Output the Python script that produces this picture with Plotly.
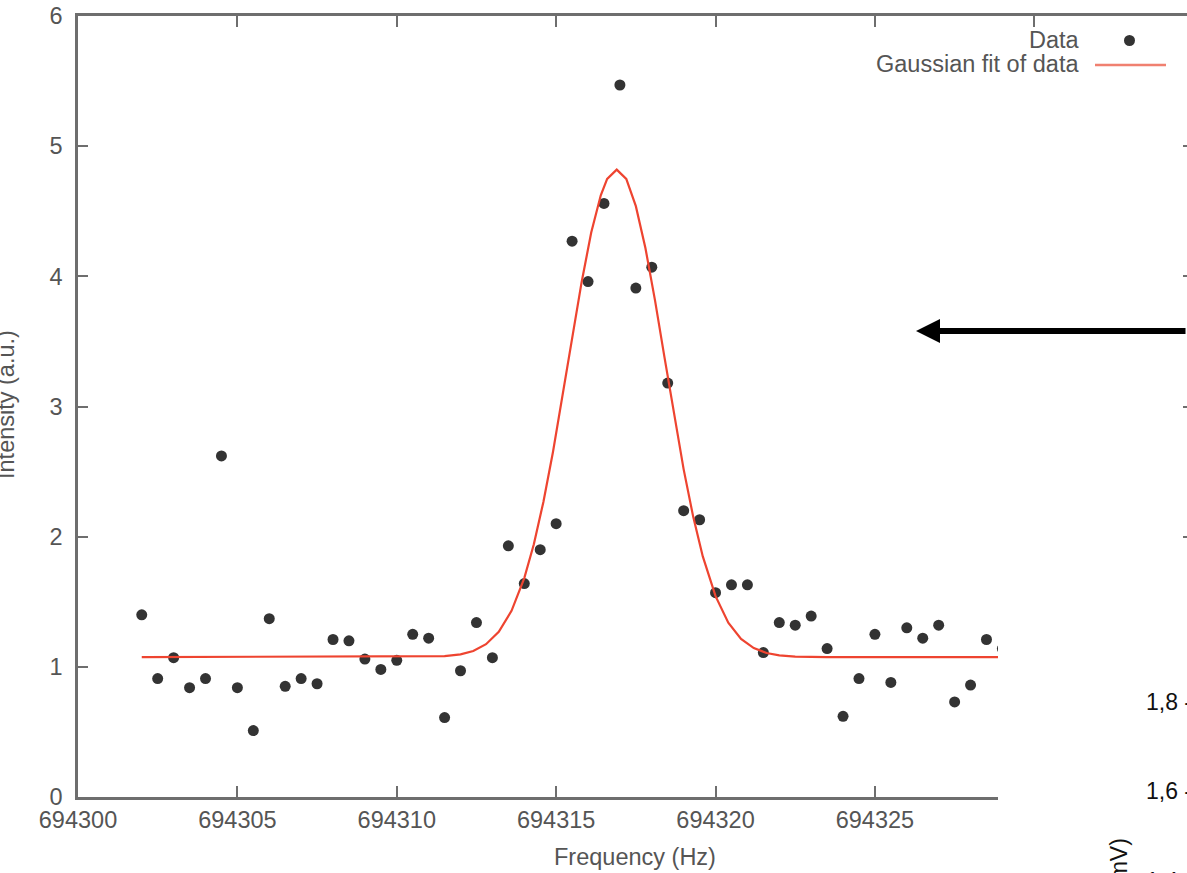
import plotly.graph_objects as go

# ---------------- data ----------------
freq = [694302.0 + 0.5 * i for i in range(55)]
intensity = [
    1.40, 0.91, 1.07, 0.84, 0.91, 2.62, 0.84, 0.51, 1.37, 0.85,
    0.91, 0.87, 1.21, 1.20, 1.06, 0.98, 1.05, 1.25, 1.22, 0.61,
    0.97, 1.34, 1.07, 1.93, 1.64, 1.90, 2.10, 4.27, 3.96, 4.56,
    5.47, 3.91, 4.07, 3.18, 2.20, 2.13, 1.57, 1.63, 1.63, 1.11,
    1.34, 1.32, 1.39, 1.14, 0.62, 0.91, 1.25, 0.88, 1.30, 1.22,
    1.32, 0.73, 0.86, 1.21, 1.14,
]

fit_freq = [
    694302.0, 694311.0, 694311.5, 694312.0, 694312.4, 694312.8, 694313.2,
    694313.6, 694314.0, 694314.3, 694314.6, 694314.9, 694315.2, 694315.5,
    694315.8, 694316.1, 694316.4, 694316.6, 694316.9, 694317.2, 694317.5,
    694317.8, 694318.1, 694318.4, 694318.7, 694319.0, 694319.3, 694319.6,
    694320.0, 694320.4, 694320.8, 694321.2, 694321.6, 694322.0, 694322.5,
    694323.5, 694329.5,
]
fit_intensity = [
    1.075, 1.077, 1.082, 1.096, 1.122, 1.174, 1.269,
    1.430, 1.682, 1.942, 2.267, 2.651, 3.079, 3.525,
    3.957, 4.336, 4.623, 4.748, 4.820, 4.748, 4.539,
    4.218, 3.817, 3.376, 2.933, 2.517, 2.152, 1.848,
    1.543, 1.339, 1.214, 1.144, 1.106, 1.088, 1.079,
    1.075, 1.075,
]

x_ticks = [694300, 694305, 694310, 694315, 694320, 694325, 694330]
x_tick_labels = ["694300", "694305", "694310", "694315", "694320", "694325", ""]
y_ticks = [0, 1, 2, 3, 4, 5, 6]
x_range = [694300, 694334.79]
y_range = [0, 6]

# ---------------- layout geometry (pixels) ----------------
W, H = 1187, 873
L, R, T, B = 78, 0, 16, 76
PW, PH = W - L - R, H - T - B


def px(xp):
    return (xp - L) / PW


def py(yp):
    return (H - B - yp) / PH


AXIS = "#6e6e6e"
TXT = "#555555"
FONT = "Liberation Sans, Arial, sans-serif"
FS = 23.5

fig = go.Figure()
fig.add_trace(go.Scatter(
    x=freq, y=intensity, mode="markers", name="Data",
    marker=dict(size=11, color="#333333"), showlegend=False,
))
fig.add_trace(go.Scatter(
    x=fit_freq, y=fit_intensity, mode="lines", name="Gaussian fit of data",
    line=dict(color="#ee4430", width=2.2), yaxis="y2", showlegend=False,
))

axis_common = dict(showgrid=False, zeroline=False, ticks="inside",
                   tickcolor=AXIS, tickwidth=2,
                   tickfont=dict(family=FONT, size=FS, color=TXT))

fig.update_layout(
    width=W, height=H,
    margin=dict(l=L, r=R, t=T, b=B, pad=0),
    paper_bgcolor="white", plot_bgcolor="white",
    showlegend=False,
    xaxis=dict(range=x_range, tickvals=x_ticks, ticktext=x_tick_labels,
               showline=True, linecolor=AXIS, linewidth=2.5, mirror="ticks",
               ticklen=11, automargin=False, **axis_common),
    yaxis=dict(range=y_range, tickvals=y_ticks, showline=True,
               linecolor=AXIS, linewidth=2.5, ticklen=10,
               ticklabelstandoff=8, automargin=False, **axis_common),
    yaxis2=dict(range=y_range, tickvals=y_ticks, overlaying="y", side="right",
                showline=False, showticklabels=False, ticklen=4,
                automargin=False, **axis_common),
)

annotations = [
    dict(text="Frequency (Hz)", x=px(635), y=py(857), xref="paper", yref="paper",
         showarrow=False, xanchor="center", yanchor="middle",
         font=dict(family=FONT, size=FS, color=TXT)),
    dict(text="Intensity (a.u.)", x=px(21), y=py(405), xref="paper", yref="paper",
         showarrow=False, xanchor="right", yanchor="middle", textangle=-90,
         font=dict(family=FONT, size=FS, color=TXT)),
    # legend (gnuplot style: text left, sample right)
    dict(text="Data", x=px(1082), y=py(40), xref="paper", yref="paper",
         showarrow=False, xanchor="right", yanchor="middle",
         font=dict(family=FONT, size=FS, color=TXT)),
    dict(text="Gaussian fit of data", x=px(1081), y=py(64), xref="paper", yref="paper",
         showarrow=False, xanchor="right", yanchor="middle",
         font=dict(family=FONT, size=FS, color=TXT)),
    # overlapping second chart fragment
    dict(text="1,8 -", x=px(1144), y=py(702), xref="paper", yref="paper",
         showarrow=False, xanchor="left", yanchor="middle",
         font=dict(family=FONT, size=23, color="#111111")),
    dict(text="1,6 -", x=px(1144), y=py(791), xref="paper", yref="paper",
         showarrow=False, xanchor="left", yanchor="middle",
         font=dict(family=FONT, size=23, color="#111111")),
    dict(text="1,4 -", x=px(1144), y=py(881), xref="paper", yref="paper",
         showarrow=False, xanchor="left", yanchor="middle",
         font=dict(family=FONT, size=23, color="#111111")),
    dict(text="(mV)", x=px(1119), y=py(836), xref="paper", yref="paper",
         showarrow=False, xanchor="center", yanchor="top", textangle=-90,
         font=dict(family=FONT, size=23, color="#111111")),
    # arrow
    dict(text="", x=px(916), y=py(331), xref="paper", yref="paper",
         showarrow=True, ax=290, ay=0, axref="pixel", ayref="pixel",
         arrowhead=2, arrowsize=0.8, arrowwidth=6, arrowcolor="black",
         standoff=0),
]
fig.update_layout(annotations=annotations)

shapes = [
    # white piece of the overlapping picture
    dict(type="rect", xref="paper", yref="paper", x0=px(998), x1=px(W + 5),
         y0=py(H + 5), y1=py(590), fillcolor="white", line=dict(width=0),
         layer="above"),
    # legend samples
    dict(type="circle", xref="paper", yref="paper", x0=px(1124), x1=px(1135),
         y0=py(46), y1=py(35), fillcolor="#333333", line=dict(width=0),
         layer="above"),
    dict(type="line", xref="paper", yref="paper", x0=px(1095), x1=px(1166),
         y0=py(65), y1=py(65), line=dict(color="#f08070", width=2.5),
         layer="above"),
]
fig.update_layout(shapes=shapes)

fig.write_html("out.html")
